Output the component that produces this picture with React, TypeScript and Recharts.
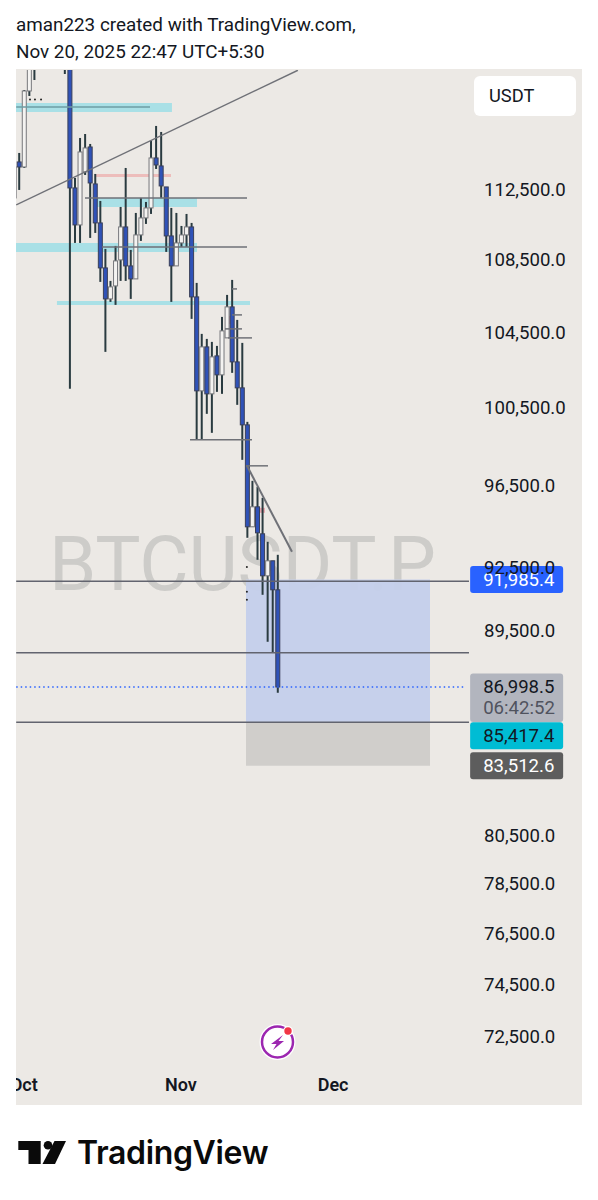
import {
  Bar,
  ComposedChart,
  ReferenceArea,
  ReferenceDot,
  ReferenceLine,
  XAxis,
  YAxis,
} from "recharts";

// day 0 is Nov 1, one candle per day
const days = [
  -33, -32, -31, -30, -29, -23, -22, -21, -20, -19, -18, -17, -16, -15, -14, -13, -12, -11, -10, -9,
  -8, -7, -6, -5, -4, -3, -2, -1, 0, 1, 2, 3, 4, 5, 6, 7, 8, 9, 10, 11, 12, 13, 14, 15, 16, 17, 18, 19,
];
const opens = [
  112122, 114236, 113938, 118520, 120500, 123000, 121500, 112706, 110564, 113644, 115127, 112940, 110679, 108126, 106401, 107121, 108575, 110449, 108238, 107511,
  109992, 110966, 111543, 114473, 114000, 112764, 109935, 108238, 109537, 109992, 110449, 106512, 101445, 103785, 101287, 103302, 102290, 104271, 105961, 102981, 101603, 99671, 94536, 95522, 94194, 92164, 92884, 91497,
];
const highs = [
  114058, 114770, 118582, 121000, 122800, 123800, 122000, 113292, 115666, 115906, 115307, 113527, 111948, 109197, 107399, 109366, 111601, 113880, 109140, 111254,
  112122, 111890, 115486, 116389, 116027, 112764, 111543, 111254, 110506, 111196, 110679, 107288, 104488, 104217, 104055, 103839, 105413, 106622, 107455, 105249, 104001, 99827, 96818, 96517, 95968, 93804, 92884, 93173,
];
const lows = [
  112006, 112589, 113880, 118214, 119197, 119569, 101550, 109537, 109537, 113468, 109821, 110106, 107344, 103517, 106236, 106071, 107399, 107399, 106401, 107511,
  109650, 110621, 111196, 113821, 112122, 109027, 106236, 108238, 109310, 109310, 105304, 98899, 98899, 100242, 99259, 101392, 101287, 104271, 102396, 100711, 97878, 93999, 94536, 92932, 91260, 89063, 88556, 86738,
];
const closes = [
  113938, 113938, 118520, 120500, 122300, 121500, 112706, 110564, 114829, 115068, 112998, 110679, 108126, 106401, 107066, 108519, 110449, 108238, 107511, 109992,
  110966, 111543, 114473, 114058, 112823, 109935, 108238, 109537, 109992, 110449, 106512, 101445, 103785, 101287, 103249, 102290, 104651, 105961, 102981, 101603, 99671, 94536, 95522, 94242, 92164, 92884, 91497, 86998.5,
];

const yTicks = [112500, 108500, 104500, 100500, 96500, 92500, 89500, 80500, 78500, 76500, 74500, 72500];
const monthDays = [-31, 0, 30];
const monthLabels = ["Oct", "Nov", "Dec"];

// [day from, day to, price low, price high]
const cyanBands = [
  [-32.54, -1.78, 117236, 117785],
  [-16.57, 3.16, 111601, 112122],
  [-32.54, 3.16, 109027, 109537],
  [-24.46, 13.61, 106071, 106291],
];
// [day from, day to, price]
const backLines = [
  [-18.93, 13.02, 112122],
  [-15.58, 13.02, 109310],
];
const frontLines = [
  [1.78, 14.0, 98899],
  [12.82, 17.16, 97575],
  [10.06, 11.05, 106954],
  [10.06, 12.03, 105522],
  [8.68, 12.03, 104759],
  [9.27, 14.0, 104271],
];
const fullLines = [91900, 88556, 85417.4];
const markerDots = [
  [-29.78, 118000],
  [-28.8, 118000],
  [-27.6, 118000],
  [13, 92586],
  [13, 91402],
  [13, 91024],
];

const tagPrices = [91985.4, 86998.5, 85417.4, 83512.6];
const tagLabels = ["91,985.4", "86,998.5", "85,417.4", "83,512.6"];

const table = days.map((day, i) => ({
  day,
  wick: [lows[i], highs[i]],
  body: [Math.min(opens[i], closes[i]), Math.max(opens[i], closes[i])],
  up: closes[i] >= opens[i],
}));

const xDomain = [-32.54, 79.09];
const yDomain = [70038, 119817];
const grey = "#6f7177";
const ink = "#131722";
const font = "Roboto, sans-serif";

const tagStyles = [
  { fill: "#2962FF", text: "#ffffff", shift: 0, h: 27 },
  { fill: "#B2B5BE", text: ink, shift: 0, h: 27 },
  { fill: "#00BCD4", text: ink, shift: 13.5, h: 27 },
  { fill: "#5D5D5D", text: "#ffffff", shift: 0, h: 27 },
];

function PriceTick({ y, payload }: any) {
  return (
    <text x={468} y={y - 1.5} dy=".35em" fontFamily={font} fontSize={18.6} fill={ink}>
      {payload.value.toLocaleString("en-US", { minimumFractionDigits: 1 })}
    </text>
  );
}

function MonthTick({ x, payload }: any) {
  return (
    <text x={x} y={1015} dy=".35em" textAnchor="middle" fontFamily={font} fontSize={18} fontWeight={600} fill={ink}>
      {monthLabels[monthDays.indexOf(payload.value)]}
    </text>
  );
}

function CandleBody({ x, y, width, height, payload }: any) {
  if (height < 0.5) return null;
  return (
    <rect
      x={x}
      y={y}
      width={width}
      height={height}
      fill={payload.up ? "#f4f3f1" : "#2f52b8"}
      stroke={payload.up ? "#77787c" : "#3b4059"}
      strokeWidth={1}
    />
  );
}

function PriceTag({ cx, cy, index }: any) {
  const s = tagStyles[index];
  const top = cy + s.shift - 13.5;
  return (
    <g fontFamily={font} fontSize={18.6}>
      <rect x={cx - 46.5} y={top} width={93} height={index === 1 ? 48.5 : s.h} rx={3} fill={s.fill} />
      <text x={cx - 33.5} y={cy + s.shift} dy=".35em" fill={s.text}>
        {tagLabels[index]}
      </text>
      {index === 1 && (
        <text x={cx - 33.5} y={cy + 20.5} dy=".35em" fill="#50535E">
          06:42:52
        </text>
      )}
    </g>
  );
}

export default function App() {
  return (
    <div style={{ position: "absolute", left: 0, top: 0, width: 598, height: 1200, background: "#fff", overflow: "hidden" }}>
      <div style={{ position: "absolute", left: 16, top: 12, fontFamily: font, fontSize: 18.85, lineHeight: "26.5px", color: ink, whiteSpace: "nowrap" }}>
        aman223 created with TradingView.com,
        <br />
        Nov 20, 2025 22:47 UTC+5:30
      </div>

      <div style={{ position: "absolute", left: 16, top: 69, width: 566, height: 1036, background: "#ece9e5" }} />
      <div
        style={{
          position: "absolute",
          left: 49,
          top: 519,
          fontFamily: font,
          fontSize: 76,
          fontWeight: 400,
          letterSpacing: -0.2,
          lineHeight: "90px",
          color: "#cdccc9",
          whiteSpace: "nowrap",
        }}
      >
        BTCUSDT.P
      </div>

      <div style={{ position: "absolute", left: 16, top: 70 }}>
        <ComposedChart width={566} height={1035} data={table} margin={{ top: 0, right: 0, bottom: 0, left: 0 }}>
          <XAxis
            xAxisId="main"
            dataKey="day"
            type="number"
            domain={xDomain}
            allowDataOverflow
            ticks={monthDays}
            interval={0}
            mirror
            axisLine={false}
            tickLine={false}
            tick={MonthTick}
          />
          <XAxis xAxisId="wick" dataKey="day" type="number" domain={xDomain} allowDataOverflow hide />
          <YAxis
            scale="log"
            domain={yDomain}
            allowDataOverflow
            ticks={yTicks}
            interval={0}
            orientation="right"
            mirror
            axisLine={false}
            tickLine={false}
            tick={PriceTick}
          />

          <ReferenceArea xAxisId="main" x1={12.82} x2={49.11} y1={85417.4} y2={91985.4} fill="#c4cfeb" fillOpacity={0.95} />
          <ReferenceArea xAxisId="main" x1={12.82} x2={49.11} y1={83512.6} y2={85417.4} fill="#d0cecb" fillOpacity={1} />

          {cyanBands.map(([x1, x2, y1, y2], i) => (
            <ReferenceArea key={i} xAxisId="main" x1={x1} x2={x2} y1={y1} y2={y2} fill="#a9e0e6" fillOpacity={1} />
          ))}
          <ReferenceArea xAxisId="main" x1={-16.76} x2={-1.97} y1={113351} y2={113527} fill="#edbdbb" fillOpacity={1} />
          <ReferenceLine
            xAxisId="main"
            segment={[{ x: -32.5, y: 117541 }, { x: -6.11, y: 117541 }]}
            stroke="#6e9ea5"
            strokeWidth={1.5}
          />
          {backLines.map(([x1, x2, y], i) => (
            <ReferenceLine key={i} xAxisId="main" segment={[{ x: x1, y }, { x: x2, y }]} stroke={grey} strokeWidth={1.5} />
          ))}
          <ReferenceLine
            xAxisId="main"
            segment={[{ x: -32.5, y: 111716 }, { x: 23.05, y: 119800 }]}
            stroke={grey}
            strokeWidth={1.5}
          />

          <Bar xAxisId="wick" dataKey="wick" barSize={2} fill="#2a3b40" isAnimationActive={false} />
          <Bar xAxisId="main" dataKey="body" barSize={4} shape={CandleBody} isAnimationActive={false} />

          <ReferenceArea xAxisId="main" x1={9.27} x2={10.26} y1={105031} y2={105467} fill="#e57f8a" fillOpacity={0.6} />
          <ReferenceArea xAxisId="main" x1={13.21} x2={16.57} y1={95225} y2={95472} fill="#e57f8a" fillOpacity={0.6} />
          {frontLines.map(([x1, x2, y], i) => (
            <ReferenceLine key={i} xAxisId="main" segment={[{ x: x1, y }, { x: x2, y }]} stroke={grey} strokeWidth={1.5} />
          ))}
          <ReferenceLine
            xAxisId="main"
            segment={[{ x: 13.02, y: 97575 }, { x: 21.89, y: 93318 }]}
            stroke={grey}
            strokeWidth={2}
          />
          {fullLines.map((y, i) => (
            <ReferenceLine key={i} xAxisId="main" segment={[{ x: -32.5, y }, { x: 56.8, y }]} stroke="#62646f" strokeWidth={1.5} />
          ))}
          <ReferenceLine
            xAxisId="main"
            segment={[{ x: -32.5, y: 86998.5 }, { x: 56, y: 86998.5 }]}
            stroke="#2962ff"
            strokeWidth={1.5}
            strokeDasharray="1.5 3"
          />
          {markerDots.map(([x, y], i) => (
            <ReferenceDot key={i} xAxisId="main" x={x} y={y} r={1} fill="#222" stroke="none" />
          ))}
          {tagPrices.map((y, i) => (
            <ReferenceDot key={i} xAxisId="main" x={66.2} y={y} shape={(p: any) => <PriceTag {...p} index={i} />} />
          ))}
        </ComposedChart>
      </div>

      <div
        style={{
          position: "absolute",
          left: 474,
          top: 76,
          width: 102,
          height: 40,
          borderRadius: 6,
          background: "#fff",
          fontFamily: font,
          fontSize: 18.3,
          lineHeight: "40px",
          paddingLeft: 15,
          boxSizing: "border-box",
          color: ink,
        }}
      >
        USDT
      </div>

      {/* replay badge and logo */}
      <svg width={598} height={1200} style={{ position: "absolute", left: 0, top: 0, pointerEvents: "none" }}>
        <circle cx={277.5} cy={1042} r={18} fill="#fff" />
        <circle cx={277.5} cy={1042} r={15.5} fill="none" stroke="#9c27b0" strokeWidth={2.5} />
        <path d="M283 1035 L271 1044 L276.5 1044 L273 1050 L284 1041 L278.5 1041 Z" fill="#9c27b0" />
        <circle cx={288} cy={1031} r={5} fill="#fff" />
        <circle cx={288} cy={1031} r={3.7} fill="#f23645" />
        <path d="M18.3 1141 H40.7 V1164 H28.5 V1150 H18.3 Z" fill="#0a0a0a" />
        <circle cx={48} cy={1145.3} r={4.3} fill="#0a0a0a" />
        <path d="M54.5 1141 H66 L55 1164 H42.5 Z" fill="#0a0a0a" />
        <text x={77} y={1164} fontFamily="Inter, sans-serif" fontSize={32} fontWeight={600} letterSpacing={-0.35} fill="#0a0a0a">
          TradingView
        </text>
      </svg>
    </div>
  );
}
